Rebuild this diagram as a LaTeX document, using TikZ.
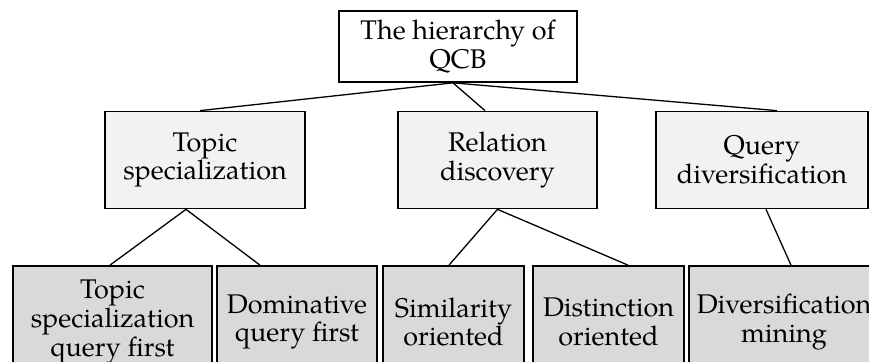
\documentclass[tikz,border=0pt]{standalone}
\usepackage{fontspec}
\setmainfont{TeX Gyre Pagella}
\definecolor{midfill}{HTML}{F2F2F2}
\definecolor{lowfill}{HTML}{D9D9D9}
\begin{document}
\begin{tikzpicture}[x=0.5pt,y=-0.5pt,
  box/.style={draw=black, line width=0.85pt, rectangle, align=center, inner sep=1pt,
    font=\fontsize{13.5}{14.4}\selectfont},
  topbox/.style={box, fill=white, minimum width=119pt, minimum height=35.5pt},
  midbox/.style={box, fill=midfill, minimum height=48.5pt},
  lowbox/.style={box, fill=lowfill, minimum height=56pt},
  link/.style={draw=black, line width=0.65pt}]
\clip (0,0) rectangle (869,362);
\fill[white] (0,0) rectangle (869,362);
% top
\node[topbox] (top) at (458,46.5) {The hierarchy of\\QCB};
% middle row
\node[midbox, minimum width=100pt] (topic) at (205,160) {Topic\\specialization};
\node[midbox, minimum width=99.5pt] (rel) at (497.5,160) {Relation\\discovery};
\node[midbox, minimum width=106pt] (qd) at (762,160) {Query\\diversification};
% bottom row
\node[lowbox, minimum width=99.5pt] (b1) at (112.5,322) {Topic\\specialization\\query first};
\node[lowbox, minimum width=80pt] (b2) at (297,322) {Dominative\\query first};
\node[lowbox, minimum width=70.5pt] (b3) at (453.5,322) {Similarity\\oriented};
\node[lowbox, minimum width=75.5pt] (b4) at (608.5,322) {Distinction\\oriented};
\node[lowbox, minimum width=95pt] (b5) at (784,322) {Diversification\\mining};
% connectors
\coordinate (tstart) at ([xshift=-2.5pt]top.south);
\draw[link] (tstart) -- ([xshift=-2.5pt]topic.north);
\draw[link] (tstart) -- ([xshift=-6.25pt]rel.north);
\draw[link] (tstart) -- ([xshift=7.5pt]qd.north);
\draw[link] ([xshift=-9.5pt]topic.south) -- ([xshift=-1.25pt]b1.north);
\draw[link] ([xshift=-9.5pt]topic.south) -- ([xshift=-18.5pt]b2.north);
\draw[link] (rel.south) -- ([xshift=-2.25pt]b3.north);
\draw[link] (rel.south) -- ([xshift=9.75pt]b4.north);
\draw[link] ([xshift=2pt]qd.south) -- ([xshift=3.5pt]b5.north);
\end{tikzpicture}
\end{document}
